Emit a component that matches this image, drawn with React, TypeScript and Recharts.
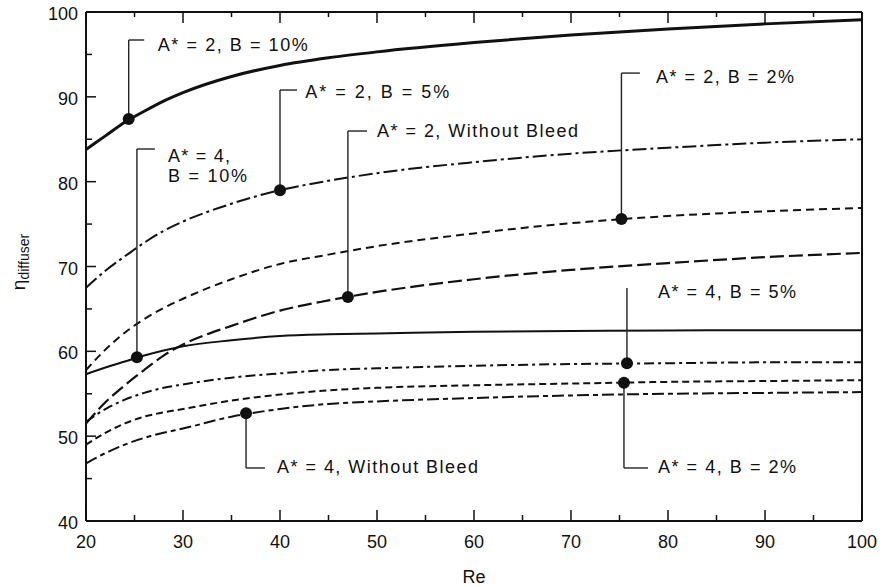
import { LineChart, Line, XAxis, YAxis, ReferenceDot, ReferenceLine } from 'recharts'

// Reynolds number samples
const re = [20, 22, 24, 26, 28, 30, 35, 40, 45, 50, 60, 70, 80, 90, 100]

// diffuser efficiency per configuration
const a2b10 = [83.8, 85.4, 87.0, 88.3, 89.5, 90.5, 92.4, 93.7, 94.6, 95.3, 96.4, 97.3, 98.0, 98.6, 99.1]
const a2b5 = [67.5, 69.5, 71.2, 72.8, 74.2, 75.3, 77.4, 79.0, 80.1, 81.0, 82.3, 83.3, 84.0, 84.6, 85.0]
const a2b2 = [57.8, 60.2, 62.2, 63.8, 65.1, 66.2, 68.5, 70.3, 71.4, 72.4, 73.9, 75.1, 75.95, 76.5, 76.9]
const a2none = [51.5, 54.0, 56.0, 57.8, 59.5, 60.8, 63.0, 64.8, 66.0, 67.0, 68.5, 69.6, 70.4, 71.1, 71.6]
const a4b10 = [57.3, 58.1, 58.8, 59.5, 60.1, 60.6, 61.3, 61.8, 62.0, 62.1, 62.3, 62.4, 62.45, 62.5, 62.5]
const a4b5 = [51.7, 53.2, 54.3, 55.1, 55.7, 56.1, 56.9, 57.4, 57.8, 58.0, 58.3, 58.5, 58.6, 58.7, 58.7]
const a4b2 = [49.0, 50.4, 51.5, 52.3, 52.8, 53.2, 54.2, 54.9, 55.4, 55.7, 56.0, 56.2, 56.4, 56.5, 56.6]
const a4none = [46.8, 48.0, 49.0, 49.8, 50.4, 50.9, 52.3, 53.2, 53.8, 54.1, 54.5, 54.8, 55.0, 55.1, 55.2]

const xTicks = [20, 25, 30, 35, 40, 45, 50, 55, 60, 65, 70, 75, 80, 85, 90, 95, 100]
const yTicks = [40, 45, 50, 55, 60, 65, 70, 75, 80, 85, 90, 95, 100]

const series = [
  { key: 'a2b10', values: a2b10, width: 3, dash: undefined },
  { key: 'a2b5', values: a2b5, width: 2, dash: '14 4 3 4' },
  { key: 'a2b2', values: a2b2, width: 2, dash: '8 5' },
  { key: 'a2none', values: a2none, width: 2.2, dash: '14 5' },
  { key: 'a4b10', values: a4b10, width: 2, dash: undefined },
  { key: 'a4b5', values: a4b5, width: 2, dash: '10 4 3 4' },
  { key: 'a4b2', values: a4b2, width: 2, dash: '7 4' },
  { key: 'a4none', values: a4none, width: 2, dash: '12 4 5 4' },
]

const data = re.map((r, i) => {
  const row: any = { re: r }
  series.forEach((s) => (row[s.key] = s.values[i]))
  return row
})

// callouts: marker on curve, leader end, optional hook, text anchor (data coords)
const notes = [
  { re: 24.4, eta: 87.4, endEta: 96.7, hookRe: 26.0, textRe: 27.4, lines: [{ t: 'A* = 2, B = 10%', eta: 95.4, w: 150 }] },
  { re: 40.0, eta: 79.0, endEta: 90.8, hookRe: 41.75, textRe: 42.6, lines: [{ t: 'A* = 2, B = 5%', eta: 89.9, w: 144 }] },
  {
    re: 25.25, eta: 59.3, endEta: 83.85, hookRe: 27.1, textRe: 28.45,
    lines: [{ t: 'A* = 4,', eta: 82.3, w: 62 }, { t: 'B = 10%', eta: 79.95, w: 79 }],
  },
  { re: 47.0, eta: 66.4, endEta: 85.97, hookRe: 48.97, textRe: 50.0, lines: [{ t: 'A* = 2, Without Bleed', eta: 85.26, w: 201 }] },
  { re: 75.2, eta: 75.6, endEta: 92.8, hookRe: 77.1, textRe: 78.76, lines: [{ t: 'A* = 2, B = 2%', eta: 91.6, w: 138 }] },
  { re: 75.77, eta: 58.6, endEta: 67.46, hookRe: null, textRe: 78.97, lines: [{ t: 'A* = 4, B = 5%', eta: 66.29, w: 138 }] },
  { re: 36.5, eta: 52.7, endEta: 46.25, hookRe: 38.45, textRe: 39.69, lines: [{ t: 'A* = 4, Without Bleed', eta: 45.69, w: 201 }] },
  { re: 75.46, eta: 56.3, endEta: 46.25, hookRe: 77.94, textRe: 78.97, lines: [{ t: 'A* = 4, B = 2%', eta: 45.7, w: 138 }] },
]

const ink = '#111'
const font = '"Liberation Sans", Arial, Helvetica, sans-serif'
const major = (v: number) => v % 10 === 0

function BottomTick({ x, y, payload }: any) {
  const m = major(payload.value)
  return (
    <g>
      <line x1={x} x2={x} y1={y} y2={y - (m ? 11 : 6)} stroke={ink} strokeWidth={1.5} />
      {m && (
        <text x={x} y={y + 27} textAnchor="middle" fontSize={18} fill={ink} fontFamily={font}>
          {payload.value}
        </text>
      )}
    </g>
  )
}

function TopTick({ x, y, payload }: any) {
  return <line x1={x} x2={x} y1={y} y2={y + (major(payload.value) ? 11 : 5)} stroke={ink} strokeWidth={1.5} />
}

function LeftTick({ x, y, payload }: any) {
  const m = major(payload.value)
  return (
    <g>
      <line x1={x} x2={x + (m ? 10 : 6)} y1={y} y2={y} stroke={ink} strokeWidth={1.5} />
      {m && (
        <text x={x - 8} y={y + 8} textAnchor="end" fontSize={18} fill={ink} fontFamily={font}>
          {payload.value}
        </text>
      )}
    </g>
  )
}

function RightTick({ x, y, payload }: any) {
  return <line x1={x} x2={x - (major(payload.value) ? 10 : 8)} y1={y} y2={y} stroke={ink} strokeWidth={1.5} />
}

const ids = { xAxisId: 'b', yAxisId: 'l' }

export default function App() {
  return (
    <div style={{ position: 'absolute', left: 0, top: 0, width: 888, height: 587, background: '#fff' }}>
      <LineChart width={888} height={587} data={data} margin={{ top: 11, right: 25, bottom: 0, left: 0 }}>
        <XAxis
          xAxisId="b"
          dataKey="re"
          type="number"
          domain={[20, 100]}
          ticks={xTicks}
          interval={0}
          height={66}
          tickLine={false}
          tickSize={0}
          tickMargin={0}
          axisLine={{ stroke: ink, strokeWidth: 2 }}
          tick={<BottomTick />}
          label={{
            content: () => (
              <text x={474} y={583} textAnchor="middle" fontSize={18} fill={ink} fontFamily={font}>
                Re
              </text>
            ),
          }}
        />
        <XAxis
          xAxisId="t"
          orientation="top"
          dataKey="re"
          type="number"
          domain={[20, 100]}
          ticks={xTicks}
          interval={0}
          height={1}
          tickLine={false}
          tickSize={0}
          tickMargin={0}
          axisLine={{ stroke: ink, strokeWidth: 2 }}
          tick={<TopTick />}
        />
        <YAxis
          yAxisId="l"
          type="number"
          domain={[40, 100]}
          ticks={yTicks}
          interval={0}
          width={86}
          tickLine={false}
          tickSize={0}
          tickMargin={0}
          axisLine={{ stroke: ink, strokeWidth: 2 }}
          tick={<LeftTick />}
          label={{
            content: () => (
              <text transform="rotate(-90 25 262)" x={25} y={262} textAnchor="middle" fontSize={19} fill={ink} fontFamily={font}>
                η
                <tspan fontSize={14} dy={4}>
                  diffuser
                </tspan>
              </text>
            ),
          }}
        />
        <YAxis
          yAxisId="r"
          orientation="right"
          type="number"
          domain={[40, 100]}
          ticks={yTicks}
          interval={0}
          width={1}
          tickLine={false}
          tickSize={0}
          tickMargin={0}
          axisLine={{ stroke: ink, strokeWidth: 2 }}
          tick={<RightTick />}
        />

        {series.map((s) => (
          <Line
            key={s.key}
            {...ids}
            type="monotone"
            dataKey={s.key}
            stroke={ink}
            strokeWidth={s.width}
            strokeDasharray={s.dash}
            dot={false}
            activeDot={false}
            isAnimationActive={false}
          />
        ))}

        {notes.map((n, i) => (
          <ReferenceLine
            key={'v' + i}
            {...ids}
            segment={[{ x: n.re, y: n.eta }, { x: n.re, y: n.endEta }]}
            stroke="#222"
            strokeWidth={1.4}
          />
        ))}
        {notes
          .filter((n) => n.hookRe !== null)
          .map((n, i) => (
            <ReferenceLine
              key={'h' + i}
              {...ids}
              segment={[{ x: n.re, y: n.endEta }, { x: n.hookRe as number, y: n.endEta }]}
              stroke="#222"
              strokeWidth={1.4}
            />
          ))}
        {notes.map((n, i) => (
          <ReferenceDot key={'d' + i} {...ids} x={n.re} y={n.eta} r={6} fill={ink} stroke="none" />
        ))}
        {notes.flatMap((n, i) =>
          n.lines.map((l, j) => (
            <ReferenceDot
              key={'t' + i + '-' + j}
              {...ids}
              x={n.textRe}
              y={l.eta}
              r={0}
              shape={(p: any) => (
                <text
                  x={p.cx}
                  y={p.cy}
                  fontSize={18}
                  fill={ink}
                  fontFamily={font}
                  textLength={l.w}
                  lengthAdjust="spacing"
                >
                  {l.t}
                </text>
              )}
            />
          ))
        )}
      </LineChart>
    </div>
  )
}
